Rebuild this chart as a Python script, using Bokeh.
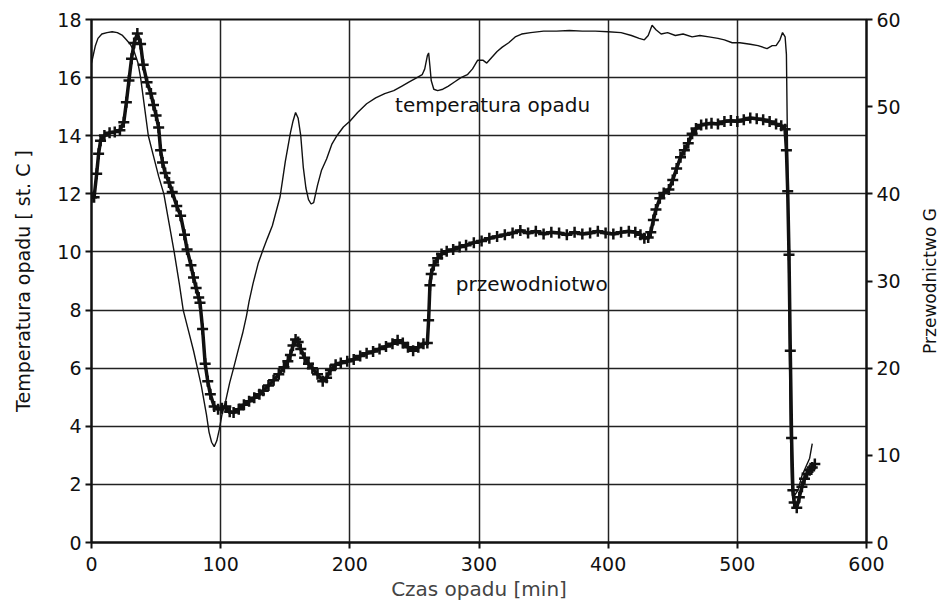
import math
from bokeh.plotting import figure
from bokeh.models import Range1d, LinearAxis, Label, FixedTicker
from bokeh.embed import file_html
from bokeh.resources import INLINE

# ---------------- data ----------------
time_temp = [0, 1, 3, 5, 8, 12, 16, 20, 24, 27, 30, 33, 36, 38, 41, 44, 48, 52, 56, 60,
             64, 68, 71, 75, 79, 82, 85, 87, 89, 91, 93, 95, 97, 99, 101, 104, 107, 110,
             114, 117, 120, 122, 125, 129, 133, 136, 140, 143, 146, 148, 150, 152, 154,
             156, 158, 160, 162, 164, 166, 168, 170, 172, 175, 178, 182, 186, 190, 195,
             200, 206, 213, 220, 227, 234, 240, 246, 252, 256, 258, 260, 261, 262, 263,
             265, 268, 272, 276, 281, 286, 291, 295, 299, 303, 306, 310, 314, 318, 323,
             328, 333, 340, 350, 360, 370, 380, 390, 400, 410, 418, 424, 428, 431, 434,
             437, 441, 446, 452, 458, 465, 471, 478, 485, 490, 496, 502, 510, 516, 523,
             527, 530, 533, 535, 537, 538, 539, 540, 541, 542, 544, 547, 550, 553, 556, 558]
temperature = [16.5, 16.7, 17.1, 17.35, 17.5, 17.55, 17.58, 17.55, 17.45, 17.3, 17.15, 16.9,
               16.5, 16.0, 15.0, 14.0, 13.3, 12.6, 12.0, 11.0, 10.0, 8.9, 8.0, 7.3, 6.6,
               6.0, 5.4, 4.9, 4.4, 3.8, 3.45, 3.3, 3.5, 3.9, 4.4, 4.9, 5.5, 6.0, 6.7, 7.2,
               7.8, 8.3, 8.9, 9.6, 10.1, 10.45, 10.9, 11.4, 11.9, 12.5, 13.1, 13.6, 14.1,
               14.5, 14.8, 14.6, 14.0, 12.9, 12.2, 11.8, 11.65, 11.7, 12.3, 12.8, 13.2,
               13.7, 14.0, 14.3, 14.5, 14.8, 15.1, 15.3, 15.45, 15.55, 15.7, 15.85, 16.0,
               16.1, 16.3, 16.75, 16.85, 16.4, 15.9, 15.6, 15.55, 15.6, 15.7, 15.85, 16.0,
               16.1, 16.3, 16.6, 16.6, 16.5, 16.7, 16.9, 17.05, 17.2, 17.4, 17.5, 17.55,
               17.6, 17.6, 17.62, 17.6, 17.6, 17.58, 17.55, 17.45, 17.35, 17.3, 17.45,
               17.8, 17.65, 17.5, 17.55, 17.45, 17.5, 17.4, 17.45, 17.4, 17.35, 17.3, 17.2,
               17.2, 17.15, 17.1, 17.0, 17.1, 17.1, 17.3, 17.55, 17.4, 16.8, 13.0, 8.0,
               4.0, 2.0, 1.6, 1.8, 2.3, 2.6, 2.9, 3.4]

time_cond = [0, 2, 4, 5.5, 7, 10, 14, 18, 22, 25, 27, 29, 31, 33, 35.5, 38, 40, 43, 46, 48,
             50, 52, 53.5, 55, 57, 60, 62.5, 66, 69, 72, 74, 77, 79, 81, 83, 84, 86, 88, 90,
             92, 95, 98, 101, 104, 107, 110, 114, 118, 122, 126, 130, 133, 137, 141, 145,
             149, 152, 154, 156, 158, 160, 162, 165, 168, 171, 175, 179, 182, 185, 189, 193,
             198, 203, 208, 213, 218, 223, 228, 233, 237, 241, 245, 249, 253, 257, 260, 261,
             262, 263, 265, 268, 271, 275, 280, 285, 290, 296, 302, 308, 314, 320, 326, 332,
             338, 344, 350, 356, 362, 368, 374, 380, 386, 392, 398, 404, 410, 416, 421, 425,
             428, 431, 433, 435, 437, 440, 443, 447, 450, 453, 456, 459, 462, 465, 468, 472,
             476, 480, 485, 490, 495, 500, 505, 510, 515, 520, 525, 530, 534, 537, 538, 539,
             540, 541, 542, 543, 544, 546, 548, 550, 552, 554, 556, 558, 560]
conductance = [39.6, 39.6, 42.3, 44.6, 46.1, 46.7, 47.0, 47.1, 47.3, 48.2, 50.5, 53.0, 55.5,
               57.3, 58.4, 57.2, 54.8, 52.8, 51.5, 50.2, 49.0, 47.6, 45.0, 43.6, 42.4, 41.3,
               40.2, 38.6, 37.5, 35.3, 33.6, 31.8, 30.4, 29.2, 28.1, 27.5, 24.5, 20.5, 18.5,
               17.0, 15.6, 15.3, 15.4, 15.6, 15.0, 14.9, 15.3, 15.8, 16.2, 16.6, 17.0, 17.4,
               18.0, 18.6, 19.3, 20.1, 20.8, 21.5, 22.6, 23.3, 23.0, 22.2, 21.2, 20.5, 20.0,
               19.3, 18.5, 18.9, 19.8, 20.4, 20.6, 20.8, 21.0, 21.4, 21.7, 21.9, 22.2, 22.5,
               22.8, 23.2, 22.9, 22.4, 22.0, 22.4, 22.8, 22.9, 25.5, 29.5, 30.8, 31.8, 32.6,
               33.1, 33.4, 33.6, 33.9, 34.1, 34.4, 34.6, 34.9, 35.1, 35.3, 35.5, 35.8, 35.5,
               35.7, 35.4, 35.6, 35.5, 35.3, 35.6, 35.4, 35.5, 35.7, 35.5, 35.4, 35.6, 35.7,
               35.6, 35.3, 34.9, 35.0, 35.6, 37.0, 38.2, 39.5, 40.1, 40.5, 41.6, 42.9, 44.2,
               45.0, 45.8, 46.9, 47.5, 47.9, 48.0, 48.1, 48.0, 48.3, 48.4, 48.3, 48.5, 48.7,
               48.6, 48.5, 48.3, 48.0, 47.8, 47.4, 45.0, 40.3, 33.0, 22.0, 12.0, 6.0, 4.6,
               4.0, 5.2, 6.4, 7.3, 7.9, 8.3, 8.6, 9.0]

x_ticks = [0, 100, 200, 300, 400, 500, 600]
left_ticks = [0, 2, 4, 6, 8, 10, 12, 14, 16, 18]
right_ticks = [0, 10, 20, 30, 40, 50, 60]

x_title = "Czas opadu [min]"
left_title = "Temperatura opadu [ st. C ]"
right_title = "Przewodnictwo G"
temp_label = "temperatura opadu"
cond_label = "przewodniotwo"

# ---------------- figure ----------------
FONT = "DejaVu Sans"
INK = "#111111"

p = figure(width=943, height=604, output_backend="svg", toolbar_location=None,
           x_range=Range1d(0, 600), y_range=Range1d(0, 18),
           min_border_left=91, min_border_right=77, min_border_top=19,
           min_border_bottom=62, background_fill_color="white",
           border_fill_color="white")
p.extra_y_ranges = {"G": Range1d(0, 60)}

p.outline_line_color = INK
p.outline_line_width = 2

raxis = LinearAxis(y_range_name="G")
p.add_layout(raxis, "right")

for ax in (p.xaxis[0], p.yaxis[0], raxis):
    ax.axis_line_color = INK
    ax.axis_line_width = 2
    ax.major_tick_line_color = INK
    ax.major_tick_line_width = 2
    ax.major_tick_out = 6
    ax.major_tick_in = 0
    ax.minor_tick_line_color = None
    ax.major_label_text_font = FONT
    ax.major_label_text_font_size = "19px"
    ax.major_label_text_color = INK
    ax.axis_label_text_font = FONT
    ax.axis_label_text_font_style = "normal"
    ax.axis_label_text_color = INK

p.xaxis[0].ticker = FixedTicker(ticks=x_ticks)
p.xaxis[0].major_label_standoff = 8
p.xaxis[0].axis_label = x_title
p.xaxis[0].axis_label_text_font_size = "20px"
p.xaxis[0].axis_label_text_color = "#444444"
p.xaxis[0].axis_label_standoff = 3

p.yaxis[0].ticker = FixedTicker(ticks=left_ticks)
p.yaxis[0].major_label_standoff = 4
p.yaxis[0].axis_label = left_title
p.yaxis[0].axis_label_text_font_size = "19px"
p.yaxis[0].axis_label_standoff = 20

raxis.ticker = FixedTicker(ticks=right_ticks)
raxis.major_label_standoff = 4

p.xgrid.ticker = FixedTicker(ticks=x_ticks)
p.ygrid.ticker = FixedTicker(ticks=left_ticks)
for g in (p.xgrid[0], p.ygrid[0]):
    g.grid_line_color = "#222222"
    g.grid_line_width = 1.5
    g.grid_line_alpha = 1.0

# temperature (thin line)
p.line(time_temp, temperature, line_color=INK, line_width=1.4)

# conductance (thick line with crosses)
p.line(time_cond, conductance, line_color=INK, line_width=3.5, y_range_name="G")
p.scatter(time_cond, conductance, marker="cross", size=11, line_color=INK,
          line_width=2.5, y_range_name="G")

# in-plot labels
p.add_layout(Label(x=235, y=15.05, text=temp_label, text_font=FONT,
                   text_font_size="20px", text_color=INK, text_baseline="middle"))
p.add_layout(Label(x=282, y=29.7, y_range_name="G", text=cond_label, text_font=FONT,
                   text_font_size="20px", text_color=INK, text_baseline="middle"))

# right-hand title, reading bottom-to-top, in the right side panel
p.add_layout(Label(x=26, y=261.5, x_units="screen", y_units="screen",
                   text=right_title, angle=math.pi / 2,
                   text_font=FONT, text_font_size="17px", text_color=INK,
                   text_align="center", text_baseline="middle"), "right")

open("out.html", "w").write(file_html(p, INLINE))
